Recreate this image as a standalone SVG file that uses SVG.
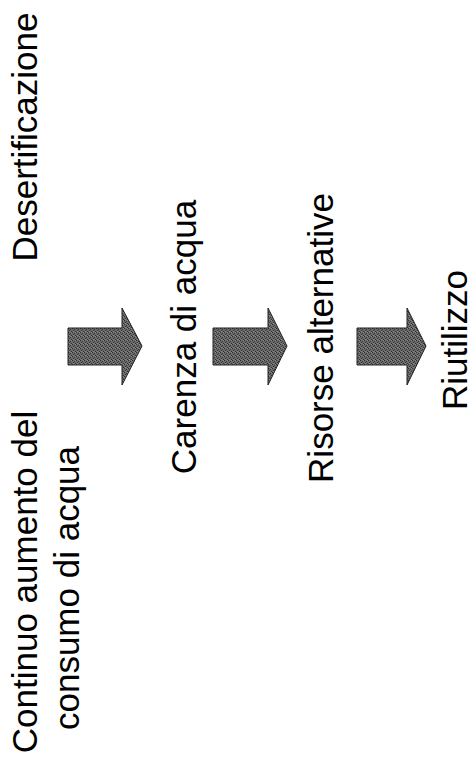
<svg xmlns="http://www.w3.org/2000/svg" width="475" height="776" viewBox="0 0 475 776">
<style>
.t{font-family:"Liberation Sans",Arial,sans-serif;font-size:35px;fill:#000;text-anchor:middle}
.arr{fill:url(#dither);stroke:#222;stroke-width:1}
</style>
<defs>
<pattern id="dither" width="4" height="4" patternUnits="userSpaceOnUse">
<rect width="4" height="4" fill="#6a6a6a"/>
<rect x="0" y="0" width="1" height="1" fill="#2e2e2e"/>
<rect x="2" y="1" width="1" height="1" fill="#3a3a3a"/>
<rect x="1" y="2" width="1" height="1" fill="#333"/>
<rect x="3" y="3" width="1" height="1" fill="#2e2e2e"/>
<rect x="3" y="0" width="1" height="1" fill="#8a8a8a"/>
<rect x="1" y="3" width="1" height="1" fill="#8a8a8a"/>
</pattern>
</defs>
<rect width="475" height="776" fill="#fff"/>
<g id="n-continuo"><text class="t" transform="translate(37,582) rotate(-90)">Continuo aumento del</text><text class="t" transform="translate(79,588) rotate(-90)">consumo di acqua</text></g>
<g id="n-desert"><text class="t" transform="translate(37,137) rotate(-90)">Desertificazione</text></g>
<g id="n-carenza"><text class="t" transform="translate(196,337) rotate(-90)">Carenza di acqua</text></g>
<g id="n-risorse"><text class="t" transform="translate(333,338) rotate(-90)">Risorse alternative</text></g>
<g id="n-riutilizzo"><text class="t" transform="translate(467,340) rotate(-90)">Riutilizzo</text></g>
<g id="connectors">
<path class="arr" d="M68,328 H122 V308 L142,346 L122,385 V365 H68 Z"/>
<path class="arr" d="M213,328 H268 V308 L287,346 L268,385 V365 H213 Z"/>
<path class="arr" d="M357,328 H407 V308 L426,346 L407,385 V365 H357 Z"/>
</g>
</svg>
